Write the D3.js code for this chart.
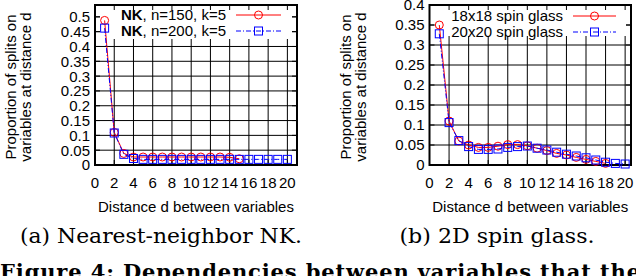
<!DOCTYPE html>
<html>
<head>
<meta charset="utf-8">
<script src="https://cdn.jsdelivr.net/npm/d3@7"></script>
<style>
  body { margin: 0; background: #fff; }
  svg { display: block; }
</style>
</head>
<body>
<svg id="chart" width="636" height="276"></svg>
<script>
// distances d on the x axis
const distances = [1, 2, 3, 4, 5, 6, 7, 8, 9, 10, 11, 12, 13, 14, 15, 16, 17, 18, 19, 20];

// (a) nearest-neighbor NK
const nk150 = [0.488, 0.11, 0.039, 0.027, 0.027, 0.027, 0.027, 0.027, 0.027, 0.027, 0.027, 0.027, 0.027, 0.026, 0.021];
const nk200 = [0.462, 0.108, 0.036, 0.022, 0.019, 0.019, 0.019, 0.019, 0.019, 0.019, 0.019, 0.019, 0.019, 0.019, 0.019, 0.019, 0.019, 0.019, 0.019, 0.019];

// (b) 2D spin glass
const sg18 = [0.35, 0.11, 0.06, 0.05, 0.044, 0.044, 0.047, 0.051, 0.051, 0.048, 0.042, 0.036, 0.029, 0.025, 0.019, 0.014, 0.009, 0.004];
const sg20 = [0.328, 0.106, 0.061, 0.046, 0.039, 0.039, 0.04, 0.044, 0.046, 0.0475, 0.042, 0.0375, 0.032, 0.027, 0.0225, 0.018, 0.0125, 0.007, 0.004, 0.0025];

const xTicks = [0, 2, 4, 6, 8, 10, 12, 14, 16, 18, 20];
const nkYTicks = [0, 0.05, 0.1, 0.15, 0.2, 0.25, 0.3, 0.35, 0.4, 0.45, 0.5];
const sgYTicks = [0, 0.05, 0.1, 0.15, 0.2, 0.25, 0.3, 0.35, 0.4];

const RED = "#ff0000";
const BLUE = "#0000ff";
const SANS = "'Liberation Sans', Arial, Helvetica, sans-serif";
const SERIF = "'DejaVu Serif', 'Liberation Serif', serif";

const svg = d3.select("#chart");

function drawPanel(o) {
  const g = svg.append("g");
  const x = d3.scaleLinear().domain([0, o.xMax]).range([o.left, o.right]);
  const y = d3.scaleLinear().domain([0, o.yMax]).range([o.bottom, o.top]);

  // grid
  g.selectAll("line.vgrid").data(xTicks).enter().append("line")
    .attr("x1", (d) => x(d)).attr("x2", (d) => x(d))
    .attr("y1", o.top).attr("y2", o.bottom)
    .attr("stroke", "#000").attr("stroke-width", 1);
  g.selectAll("line.hgrid").data(o.yTicks).enter().append("line")
    .attr("x1", o.left).attr("x2", o.right)
    .attr("y1", (d) => y(d)).attr("y2", (d) => y(d))
    .attr("stroke", "#000").attr("stroke-width", 1);

  // opaque key box hides the grid under it
  g.append("rect")
    .attr("x", o.left + 5).attr("y", o.top + 1)
    .attr("width", o.right - o.left - 10).attr("height", o.keyBottom - o.top - 1)
    .attr("fill", "#fff");

  // inward ticks on all four sides
  const tk = 5;
  xTicks.forEach((d) => {
    g.append("line").attr("x1", x(d)).attr("x2", x(d)).attr("y1", o.bottom).attr("y2", o.bottom - tk).attr("stroke", "#000");
    g.append("line").attr("x1", x(d)).attr("x2", x(d)).attr("y1", o.top).attr("y2", o.top + tk).attr("stroke", "#000");
  });
  o.yTicks.forEach((d) => {
    g.append("line").attr("x1", o.left).attr("x2", o.left + tk).attr("y1", y(d)).attr("y2", y(d)).attr("stroke", "#000");
    g.append("line").attr("x1", o.right).attr("x2", o.right - tk).attr("y1", y(d)).attr("y2", y(d)).attr("stroke", "#000");
  });

  // border
  g.append("rect")
    .attr("x", o.left).attr("y", o.top)
    .attr("width", o.right - o.left).attr("height", o.bottom - o.top)
    .attr("fill", "none").attr("stroke", "#000").attr("stroke-width", 2);

  // tick labels
  g.selectAll("text.xt").data(xTicks).enter().append("text")
    .attr("x", (d) => x(d)).attr("y", o.bottom + 23)
    .attr("text-anchor", "middle")
    .style("font-family", SANS).style("font-size", "15px")
    .text((d) => d);
  g.selectAll("text.yt").data(o.yTicks).enter().append("text")
    .attr("x", o.left - 5).attr("y", (d) => y(d)).attr("dy", "0.36em")
    .attr("text-anchor", "end")
    .style("font-family", SANS).style("font-size", "15px")
    .text((d) => String(+d.toFixed(2)));

  // axis titles
  g.append("text")
    .attr("x", (o.left + o.right) / 2).attr("y", o.bottom + 47)
    .attr("text-anchor", "middle")
    .style("font-family", SANS).style("font-size", "15px")
    .text("Distance d between variables");
  const yl = ["Proportion of splits on", "variables at distance d"];
  yl.forEach((t, i) => {
    g.append("text")
      .attr("transform", `translate(${o.yLabelX + i * 15},${(o.top + o.bottom) / 2 + 2}) rotate(-90)`)
      .attr("text-anchor", "middle")
      .style("font-family", SANS).style("font-size", "15px")
      .text(t);
  });

  // caption
  g.append("text")
    .attr("x", o.captionX).attr("y", 243)
    .attr("text-anchor", "middle")
    .attr("textLength", o.captionWidth).attr("lengthAdjust", "spacingAndGlyphs")
    .style("font-family", SERIF).style("font-size", "20.5px")
    .text(o.caption);

  // series
  o.series.forEach((s, si) => {
    const pts = s.values.map((v, i) => [distances[i], v]);
    const line = d3.line().x((d) => x(d[0])).y((d) => y(d[1]));
    g.append("path").datum(pts)
      .attr("d", line).attr("fill", "none")
      .attr("stroke", s.color).attr("stroke-width", 1)
      .attr("stroke-dasharray", s.dash);
    drawMarkers(g, pts.map((p) => [x(p[0]), y(p[1])]), s);

    // key entry
    const ky = o.keyRows[si];
    const kt = g.append("text")
      .attr("x", o.keyTextEnd).attr("y", ky).attr("dy", "0.36em")
      .attr("text-anchor", "end")
      .style("font-family", SANS).style("font-size", "15px");
    if (s.bold) kt.append("tspan").style("font-weight", "bold").text(s.bold);
    kt.append("tspan").text(s.label);
    g.append("line")
      .attr("x1", o.keyLine[0]).attr("x2", o.keyLine[1])
      .attr("y1", ky).attr("y2", ky)
      .attr("stroke", s.color).attr("stroke-dasharray", s.dash);
    drawMarkers(g, [[(o.keyLine[0] + o.keyLine[1]) / 2, ky]], s);
  });
}

function drawMarkers(g, pts, s) {
  if (s.marker === "circle") {
    g.selectAll(null).data(pts).enter().append("circle")
      .attr("cx", (d) => d[0]).attr("cy", (d) => d[1]).attr("r", 4)
      .attr("fill", "none").attr("stroke", s.color).attr("stroke-width", 1);
  } else {
    g.selectAll(null).data(pts).enter().append("rect")
      .attr("x", (d) => d[0] - 4).attr("y", (d) => d[1] - 4)
      .attr("width", 8).attr("height", 8)
      .attr("fill", "none").attr("stroke", s.color).attr("stroke-width", 1);
  }
}

drawPanel({
  left: 95, right: 297, top: 5, bottom: 165,
  xMax: 21, yMax: 0.54, yTicks: nkYTicks, keyBottom: 39,
  yLabelX: 15.5, captionX: 161, captionWidth: 282,
  caption: "(a) Nearest-neighbor NK.",
  keyRows: [15, 31], keyTextEnd: 226, keyLine: [236, 281],
  series: [
    { values: nk150, color: RED, dash: null, marker: "circle", bold: "NK", label: ", n=150, k=5" },
    { values: nk200, color: BLUE, dash: "5,2,1,2", marker: "square", bold: "NK", label: ", n=200, k=5" },
  ],
});

drawPanel({
  left: 429.5, right: 631, top: 5, bottom: 165,
  xMax: 20.6, yMax: 0.4, yTicks: sgYTicks, keyBottom: 36,
  yLabelX: 351, captionX: 497, captionWidth: 195,
  caption: "(b) 2D spin glass.",
  keyRows: [16, 32], keyTextEnd: 563, keyLine: [573, 616],
  series: [
    { values: sg18, color: RED, dash: null, marker: "circle", label: "18x18 spin glass" },
    { values: sg20, color: BLUE, dash: "5,2,1,2", marker: "square", label: "20x20 spin glass" },
  ],
});

// figure caption cut off by the bottom edge
svg.append("text")
  .attr("x", 0).attr("y", 279)
  .attr("textLength", 640).attr("lengthAdjust", "spacing")
  .style("font-family", SERIF).style("font-size", "21px").style("font-weight", "bold")
  .text("Figure 4: Dependencies between variables that the");
</script>
</body>
</html>
